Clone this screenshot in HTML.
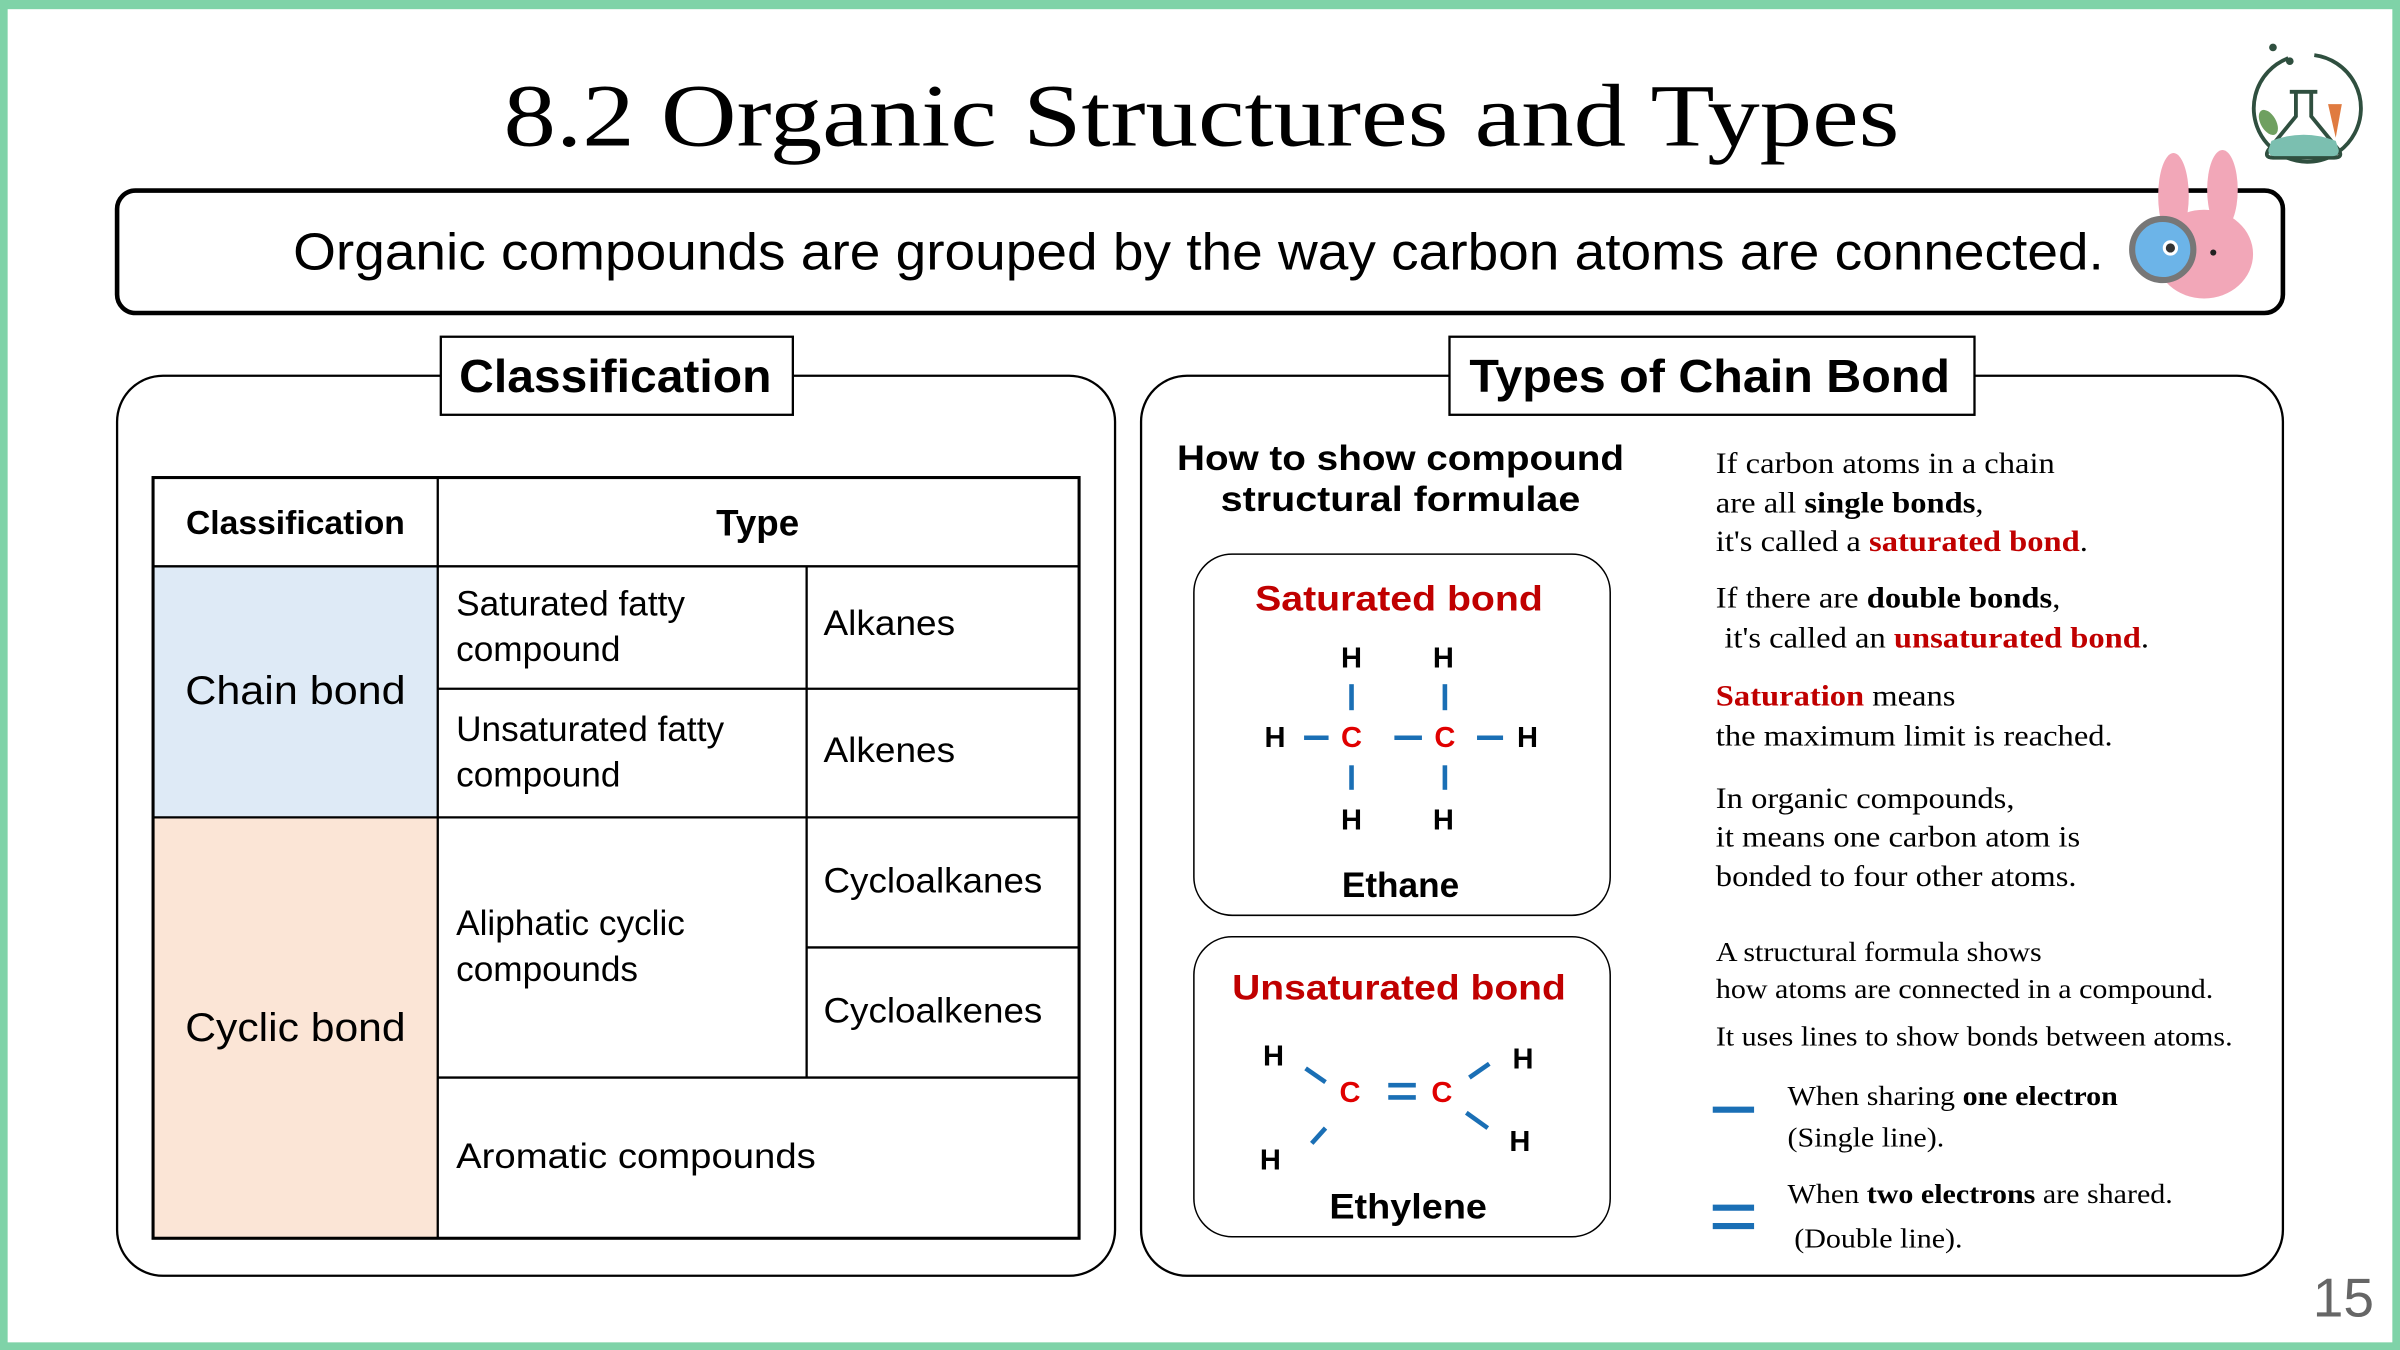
<!DOCTYPE html>
<html><head><meta charset="utf-8"><style>
html,body{margin:0;padding:0;background:#fff}
svg{display:block}
.s{font-family:"Liberation Sans",sans-serif}
.r{font-family:"Liberation Serif",serif}
</style></head><body>
<svg width="2400" height="1350" viewBox="0 0 1568 882" xmlns="http://www.w3.org/2000/svg">
<rect x="0" y="0" width="1568" height="882" fill="#7fd3a8"/>
<rect x="5" y="6" width="1558" height="871" fill="#fff"/>

<text x="785" y="95" text-anchor="middle" class="r" font-size="58" textLength="912" lengthAdjust="spacingAndGlyphs">8.2 Organic Structures and Types</text>

<!-- flask icon -->
<g stroke="#2f4f3f" stroke-width="2.5" fill="none">
<path d="M1495 38 A35 35 0 1 0 1512 36"/>
<path d="M1496 60 h18 M1500 60 v16 l-18 22 q-3 5 3 5 h40 q6 0 3-5 l-18-22 v-16"/>
</g>
<path d="M1484 92 q21 -8 42 0 l2 6 q0 4 -4 4 h-38 q-4 0 -4-4z" fill="#7bbfb0"/>
<circle cx="1485" cy="31" r="2.5" fill="#2f4f3f"/><circle cx="1496" cy="40" r="2.5" fill="#2f4f3f"/>
<ellipse cx="1482" cy="80" rx="5" ry="9" fill="#6fa060" transform="rotate(-30 1482 80)"/>
<path d="M1521 68 l9 0 l-4 22z" fill="#e07b40"/>

<!-- subtitle box -->
<rect x="76.5" y="124.5" width="1415" height="80" rx="12" fill="#fff" stroke="#000" stroke-width="3"/>
<text x="783" y="176" text-anchor="middle" class="s" font-size="34" textLength="1183" lengthAdjust="spacingAndGlyphs">Organic compounds are grouped by the way carbon atoms are connected.</text>

<!-- bunny -->
<g>
<ellipse cx="1420" cy="128" rx="10" ry="28" fill="#f2a7b8"/>
<ellipse cx="1452" cy="124" rx="10" ry="26" fill="#f2a7b8"/>
<ellipse cx="1440" cy="166" rx="32" ry="29" fill="#f2a7b8"/>
<circle cx="1413" cy="163" r="20" fill="#6cb4e8" stroke="#777" stroke-width="4"/>
<circle cx="1418" cy="162" r="5" fill="#fff"/><circle cx="1418" cy="162" r="3" fill="#333"/>
<circle cx="1446" cy="165" r="2" fill="#222"/>
</g>

<!-- left panel -->
<rect x="76.5" y="245.5" width="652" height="588" rx="30" fill="none" stroke="#000" stroke-width="1.5"/>
<rect x="288" y="220" width="230" height="51" fill="#fff" stroke="#000" stroke-width="1.5"/>
<text x="402" y="256" text-anchor="middle" class="s" font-size="30" font-weight="bold" textLength="204" lengthAdjust="spacingAndGlyphs">Classification</text>

<rect x="100" y="370" width="186" height="164" fill="#deeaf6"/>
<rect x="100" y="534" width="186" height="275" fill="#fbe5d6"/>
<g stroke="#000" stroke-width="1.5" fill="none">
<rect x="100" y="312" width="605" height="497" stroke-width="2"/>
<line x1="100" y1="370" x2="705" y2="370"/>
<line x1="286" y1="312" x2="286" y2="809"/>
<line x1="527" y1="370" x2="527" y2="704"/>
<line x1="286" y1="450" x2="705" y2="450"/>
<line x1="100" y1="534" x2="705" y2="534"/>
<line x1="527" y1="619" x2="705" y2="619"/>
<line x1="286" y1="704" x2="705" y2="704"/>
</g>
<g class="s" font-size="23">
<text x="193" y="349" text-anchor="middle" font-weight="bold" font-size="22">Classification</text>
<text x="495" y="350" text-anchor="middle" font-weight="bold" font-size="24">Type</text>
<text x="193" y="460" text-anchor="middle" font-size="26" textLength="144" lengthAdjust="spacingAndGlyphs">Chain bond</text>
<text x="193" y="680" text-anchor="middle" font-size="26" textLength="144" lengthAdjust="spacingAndGlyphs">Cyclic bond</text>
<text x="298" y="402">Saturated fatty</text>
<text x="298" y="432">compound</text>
<text x="298" y="484">Unsaturated fatty</text>
<text x="298" y="514">compound</text>
<text x="298" y="611">Aliphatic cyclic</text>
<text x="298" y="641">compounds</text>
<text x="298" y="763" textLength="235" lengthAdjust="spacingAndGlyphs">Aromatic compounds</text>
<text x="538" y="415" textLength="86" lengthAdjust="spacingAndGlyphs">Alkanes</text>
<text x="538" y="498" textLength="86" lengthAdjust="spacingAndGlyphs">Alkenes</text>
<text x="538" y="583" textLength="143" lengthAdjust="spacingAndGlyphs">Cycloalkanes</text>
<text x="538" y="668" textLength="143" lengthAdjust="spacingAndGlyphs">Cycloalkenes</text>
</g>

<!-- right panel -->
<rect x="745.5" y="245.5" width="746" height="588" rx="30" fill="none" stroke="#000" stroke-width="1.5"/>
<rect x="947" y="220" width="343" height="51" fill="#fff" stroke="#000" stroke-width="1.5"/>
<text x="1117" y="256" text-anchor="middle" class="s" font-size="30" font-weight="bold" textLength="314" lengthAdjust="spacingAndGlyphs">Types of Chain Bond</text>

<text x="915" y="307" text-anchor="middle" class="s" font-size="23" font-weight="bold" textLength="292" lengthAdjust="spacingAndGlyphs">How to show compound</text>
<text x="915" y="334" text-anchor="middle" class="s" font-size="23" font-weight="bold" textLength="235" lengthAdjust="spacingAndGlyphs">structural formulae</text>

<rect x="780" y="362" width="272" height="236" rx="25" fill="none" stroke="#000" stroke-width="1"/>
<rect x="780" y="612" width="272" height="196" rx="25" fill="none" stroke="#000" stroke-width="1"/>

<g class="s" font-weight="bold">
<text x="914" y="399" text-anchor="middle" font-size="23" fill="#c00000" textLength="188" lengthAdjust="spacingAndGlyphs">Saturated bond</text>
<text x="915" y="586" text-anchor="middle" font-size="23">Ethane</text>
<text x="914" y="653" text-anchor="middle" font-size="23" fill="#c00000" textLength="218" lengthAdjust="spacingAndGlyphs">Unsaturated bond</text>
<text x="920" y="796" text-anchor="middle" font-size="23" textLength="103" lengthAdjust="spacingAndGlyphs">Ethylene</text>
<g font-size="19" text-anchor="middle">
<text x="883" y="436">H</text><text x="943" y="436">H</text>
<text x="833" y="488">H</text><text x="998" y="488">H</text>
<text x="883" y="542">H</text><text x="943" y="542">H</text>
<text x="883" y="488" fill="#e00000">C</text><text x="944" y="488" fill="#e00000">C</text>
<text x="832" y="696">H</text><text x="830" y="764">H</text>
<text x="995" y="698">H</text><text x="993" y="752">H</text>
<text x="882" y="720" fill="#e00000">C</text><text x="942" y="720" fill="#e00000">C</text>
</g>
</g>
<g stroke="#1a6fb5" stroke-width="3">
<line x1="883" y1="447" x2="883" y2="464"/><line x1="944" y1="447" x2="944" y2="464"/>
<line x1="883" y1="500" x2="883" y2="516"/><line x1="944" y1="500" x2="944" y2="516"/>
<line x1="852" y1="482" x2="868" y2="482"/><line x1="911" y1="482" x2="929" y2="482"/><line x1="965" y1="482" x2="982" y2="482"/>
<line x1="907" y1="709" x2="925" y2="709"/><line x1="907" y1="717" x2="925" y2="717"/>
<line x1="853" y1="698" x2="866" y2="707"/><line x1="857" y1="747" x2="866" y2="737"/>
<line x1="960" y1="704" x2="973" y2="695"/><line x1="958" y1="727" x2="972" y2="737"/>
<line x1="1119" y1="725" x2="1146" y2="725" stroke-width="4"/>
<line x1="1119" y1="789" x2="1146" y2="789" stroke-width="4"/>
<line x1="1119" y1="801" x2="1146" y2="801" stroke-width="4"/>
</g>

<g class="r" font-size="19" transform="translate(1121 0) scale(1.12 1) translate(-1121 0)">
<text x="1121" y="309">If carbon atoms in a chain</text>
<text x="1121" y="335">are all <tspan font-weight="bold">single bonds</tspan>,</text>
<text x="1121" y="360">it's called a <tspan font-weight="bold" fill="#c00000">saturated bond</tspan>.</text>
<text x="1121" y="397">If there are <tspan font-weight="bold">double bonds</tspan>,</text>
<text x="1126" y="423">it's called an <tspan font-weight="bold" fill="#c00000">unsaturated bond</tspan>.</text>
<text x="1121" y="461"><tspan font-weight="bold" fill="#c00000">Saturation</tspan> means</text>
<text x="1121" y="487">the maximum limit is reached.</text>
<text x="1121" y="528">In organic compounds,</text>
<text x="1121" y="553">it means one carbon atom is</text>
<text x="1121" y="579">bonded to four other atoms.</text>
</g>
<g class="r" font-size="18" transform="translate(1121 0) scale(1.09 1) translate(-1121 0)">
<text x="1121" y="628">A structural formula shows</text>
<text x="1121" y="652">how atoms are connected in a compound.</text>
<text x="1121" y="683">It uses lines to show bonds between atoms.</text>
<text x="1164" y="722">When sharing <tspan font-weight="bold">one electron</tspan></text>
<text x="1164" y="749">(Single line).</text>
<text x="1164" y="786">When <tspan font-weight="bold">two electrons</tspan> are shared.</text>
<text x="1168" y="815">(Double line).</text>
</g>

<text x="1531" y="860" text-anchor="middle" class="s" font-size="36" fill="#666">15</text>
</svg>
</body></html>
